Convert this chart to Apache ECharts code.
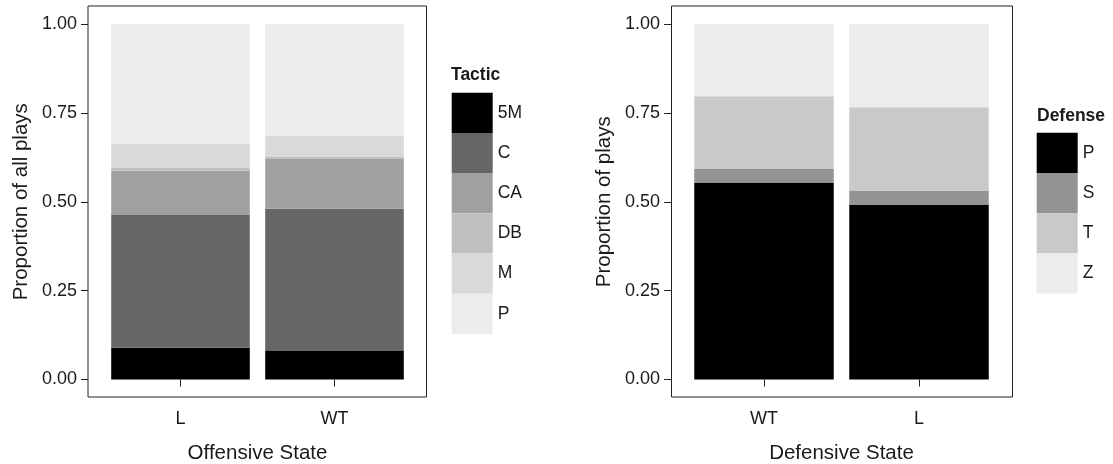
<!DOCTYPE html>
<html>
<head>
<meta charset="utf-8">
<script src="https://cdn.jsdelivr.net/npm/echarts@6/dist/echarts.min.js"></script>
<style>html,body{margin:0;padding:0;background:#fff}#c{width:1113px;height:464px}</style>
</head>
<body>
<div id="c"></div>
<script>
// ---- data ----
const offCategories = ['L', 'WT'];
const tactics = ['5M', 'C', 'CA', 'DB', 'M', 'P'];
const tactic5M = [0.089, 0.080];
const tacticC  = [0.374, 0.400];
const tacticCA = [0.124, 0.140];
const tacticDB = [0.008, 0.006];
const tacticM  = [0.068, 0.059];
const tacticP  = [0.337, 0.315];

const defCategories = ['WT', 'L'];
const defenses = ['P', 'S', 'T', 'Z'];
const defP = [0.553, 0.491];
const defS = [0.039, 0.039];
const defT = [0.205, 0.236];
const defZ = [0.203, 0.234];

const yTicks = [0, 0.25, 0.5, 0.75, 1];

// ---- styles ----
const tacticColors = ['#000000', '#666666', '#a0a0a0', '#c0c0c0', '#d9d9d9', '#ececec'];
const defColors = ['#000000', '#939393', '#c9c9c9', '#ececec'];
const FONT = 'Liberation Sans, Arial, sans-serif';
const TXT = '#1a1a1a';
const LINE = '#222222';

const tacticValues = [tactic5M, tacticC, tacticCA, tacticDB, tacticM, tacticP];
const defValues = [defP, defS, defT, defZ];

function yAxisFor(grid, name, gap) {
  return {
    type: 'value', gridIndex: grid, min: yTicks[0], max: yTicks[yTicks.length - 1], interval: 0.25,
    offset: 15.5,
    name: name, nameLocation: 'middle', nameGap: gap,
    nameTextStyle: { fontFamily: FONT, fontSize: 20.5, color: TXT },
    axisLine: { show: false },
    axisTick: { show: true, length: 7, lineStyle: { color: LINE, width: 1 } },
    axisLabel: { margin: 11, fontFamily: FONT, fontSize: 18, color: TXT, formatter: v => v.toFixed(2) },
    splitLine: { show: false }
  };
}
function xAxisFor(grid, cats, name) {
  return {
    type: 'category', gridIndex: grid, data: cats, offset: 17.8,
    name: name, nameLocation: 'middle', nameGap: 46,
    nameTextStyle: { fontFamily: FONT, fontSize: 20.5, color: TXT },
    axisLine: { show: false },
    axisTick: { show: true, alignWithLabel: true, length: 7, lineStyle: { color: LINE, width: 1 } },
    axisLabel: { margin: 13, fontFamily: FONT, fontSize: 18, color: TXT }
  };
}

const series = [];
tactics.forEach((t, i) => series.push({
  name: t, type: 'bar', stack: 'off', xAxisIndex: 0, yAxisIndex: 0,
  data: tacticValues[i], barWidth: '90%', itemStyle: { color: tacticColors[i] }, silent: true
}));
defenses.forEach((d, i) => series.push({
  name: d, type: 'bar', stack: 'def', xAxisIndex: 1, yAxisIndex: 1,
  data: defValues[i], barWidth: '90%', itemStyle: { color: defColors[i] }, silent: true
}));

const chart = echarts.init(document.getElementById('c'), null, { renderer: 'canvas' });
chart.setOption({
  backgroundColor: '#ffffff',
  animation: false,
  title: [
    { text: 'Tactic', left: 451, top: 66, padding: 0, textStyle: { fontFamily: FONT, fontSize: 17.5, fontWeight: 'bold', color: TXT } },
    { text: 'Defense', left: 1037, top: 107, padding: 0, textStyle: { fontFamily: FONT, fontSize: 17.5, fontWeight: 'bold', color: TXT } }
  ],
  grid: [
    { left: 103.5, top: 24, width: 308, height: 355.5, outerBoundsMode: 'none', containLabel: false },
    { left: 686.5, top: 24, width: 310, height: 355.5, outerBoundsMode: 'none', containLabel: false },
    { left: 88, top: 6, width: 338.5, height: 391, outerBoundsMode: 'none', show: true, borderColor: LINE, borderWidth: 1, backgroundColor: 'transparent', z: 0 },
    { left: 671.5, top: 6, width: 341, height: 391, outerBoundsMode: 'none', show: true, borderColor: LINE, borderWidth: 1, backgroundColor: 'transparent', z: 0 }
  ],
  xAxis: [
    xAxisFor(0, offCategories, 'Offensive State'),
    xAxisFor(1, defCategories, 'Defensive State'),
    { type: 'value', gridIndex: 2, show: false },
    { type: 'value', gridIndex: 3, show: false }
  ],
  yAxis: [
    yAxisFor(0, 'Proportion of all plays', 56),
    yAxisFor(1, 'Proportion of plays', 56),
    { type: 'value', gridIndex: 2, show: false },
    { type: 'value', gridIndex: 3, show: false }
  ],
  legend: [
    {
      orient: 'vertical', left: 451.7, top: 92.7, padding: 0, itemWidth: 41, itemHeight: 40.2, itemGap: 0,
      selectedMode: false, icon: 'rect',
      textStyle: { fontFamily: FONT, fontSize: 17.5, color: TXT, padding: [3, 0, 0, 0] },
      data: tactics.map((t, i) => ({ name: t, itemStyle: { color: tacticColors[i] } }))
    },
    {
      orient: 'vertical', left: 1036.7, top: 132.7, padding: 0, itemWidth: 41, itemHeight: 40.2, itemGap: 0,
      selectedMode: false, icon: 'rect',
      textStyle: { fontFamily: FONT, fontSize: 17.5, color: TXT, padding: [3, 0, 0, 0] },
      data: defenses.map((d, i) => ({ name: d, itemStyle: { color: defColors[i] } }))
    }
  ],
  series: series
});
</script>
</body>
</html>
